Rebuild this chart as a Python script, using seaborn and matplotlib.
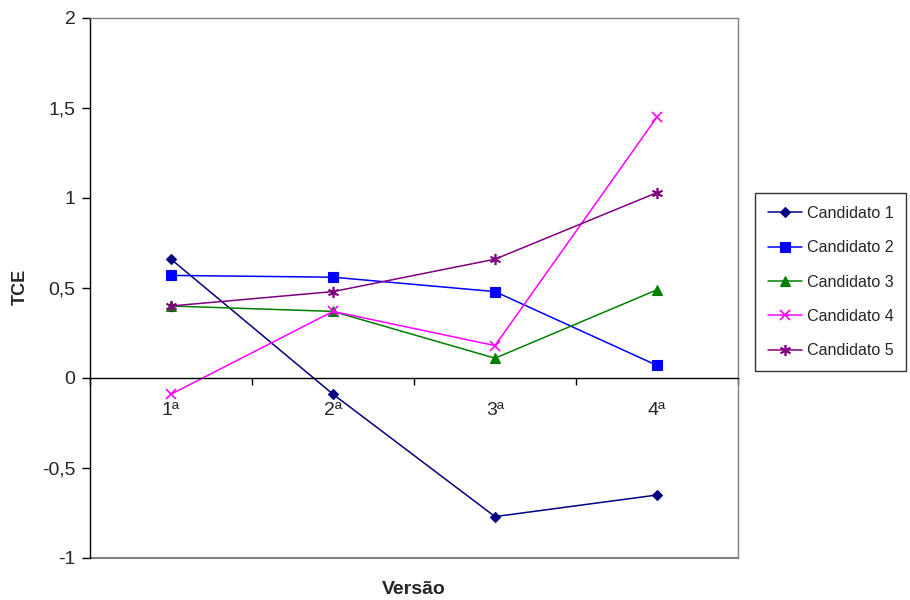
import matplotlib
matplotlib.use("Agg")
import matplotlib.pyplot as plt
import seaborn as sns
import pandas as pd

versions = ["1ª", "2ª", "3ª", "4ª"]
series_names = ["Candidato 1", "Candidato 2", "Candidato 3", "Candidato 4", "Candidato 5"]
cand1 = [0.66, -0.09, -0.77, -0.65]
cand2 = [0.57, 0.56, 0.48, 0.07]
cand3 = [0.40, 0.37, 0.11, 0.49]
cand4 = [-0.09, 0.37, 0.18, 1.45]
cand5 = [0.40, 0.48, 0.66, 1.03]
y_ticks = [-1, -0.5, 0, 0.5, 1, 1.5, 2]
y_tick_labels = ["-1", "-0,5", "0", "0,5", "1", "1,5", "2"]

colors = ["#000080", "#0000FF", "#008000", "#FF00FF", "#800080"]
markers = ["D", "s", "^", "x", (6, 2, 0)]
msizes = [5.5, 7, 7, 7, 8]

rows = []
for name, vals in zip(series_names, [cand1, cand2, cand3, cand4, cand5]):
    for i, v in enumerate(vals):
        rows.append({"Versão": i, "TCE": v, "Candidato": name})
df = pd.DataFrame(rows)

sns.set_style("white")
plt.rcParams["font.family"] = ["Liberation Sans", "DejaVu Sans"]

fig = plt.figure(figsize=(9.1, 6), dpi=100)
ax = fig.add_axes([90 / 910, 1 - 558 / 600, (738 - 90) / 910, (558 - 18) / 600])

for name, c, m, ms in zip(series_names, colors, markers, msizes):
    sub = df[df["Candidato"] == name]
    thin = m == "x" or isinstance(m, tuple)
    sns.lineplot(data=sub, x="Versão", y="TCE", ax=ax, color=c, marker=m,
                 markersize=ms, linewidth=1.1, label=name,
                 markeredgecolor=c, markeredgewidth=1.2 if thin else 0.8,
                 markerfacecolor=c)

ax.set_xlim(-0.5, 3.5)
ax.set_ylim(-1, 2)
ax.set_yticks(y_ticks)
ax.set_yticklabels(y_tick_labels, fontsize=14)
ax.tick_params(axis="y", direction="out", length=5.5, width=1, color="black", left=True, pad=5)

# x axis at zero
ax.spines["bottom"].set_position(("data", 0))
ax.spines["bottom"].set_color("black")
ax.spines["bottom"].set_linewidth(1)
ax.spines["left"].set_color("black")
ax.spines["left"].set_linewidth(1)
for s in ["top", "right"]:
    ax.spines[s].set_color("#808080")
    ax.spines[s].set_linewidth(1)
ax.axhline(-1, color="#808080", linewidth=1.5, clip_on=False)

ax.set_xticks([-0.5, 0.5, 1.5, 2.5, 3.5])
ax.set_xticklabels([])
ax.set_xticks([0, 1, 2, 3], minor=True)
ax.set_xticklabels(versions, minor=True, fontsize=14)
ax.tick_params(axis="x", which="major", direction="out", length=5, width=1, color="black", bottom=True)
ax.tick_params(axis="x", which="minor", length=0, pad=17)

ax.set_xlabel("")
ax.set_ylabel("")
fig.text(414 / 910, 1 - 590 / 600, "Versão", fontsize=14, fontweight="bold", ha="center", va="center")
fig.text(20 / 910, 1 - 287 / 600, "TCE", fontsize=13, fontweight="bold", ha="center", va="center", rotation=90)

leg = ax.legend(loc="upper left", bbox_to_anchor=(755 / 910, 1 - 193 / 600), bbox_transform=fig.transFigure,
                frameon=True, fancybox=False, edgecolor="black", fontsize=11.6, handlelength=2.1,
                labelspacing=1.2, borderpad=0.8, handletextpad=0.3, borderaxespad=0)
leg.get_frame().set_linewidth(1)

fig.savefig("out.png", dpi=100)
